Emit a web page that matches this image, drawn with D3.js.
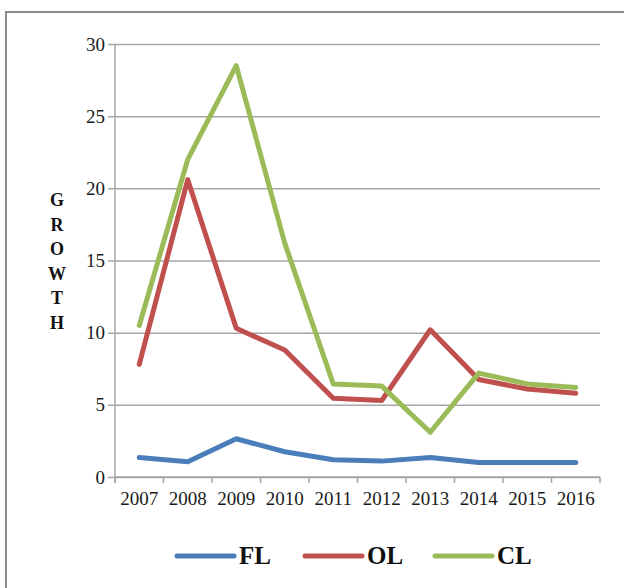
<!DOCTYPE html>
<html>
<head>
<meta charset="utf-8">
<script src="https://cdn.jsdelivr.net/npm/d3@7"></script>
<style>
  body { margin: 0; background: #fff; }
  svg { display: block; }
</style>
</head>
<body>
<div id="chart"></div>
<script>
// data
const years = ["2007", "2008", "2009", "2010", "2011", "2012", "2013", "2014", "2015", "2016"];
const flValues = [1.35, 1.05, 2.65, 1.75, 1.2, 1.1, 1.35, 1.0, 1.0, 1.0];
const olValues = [7.8, 20.6, 10.3, 8.8, 5.45, 5.3, 10.2, 6.75, 6.1, 5.8];
const clValues = [10.5, 22.0, 28.5, 16.2, 6.45, 6.3, 3.1, 7.2, 6.45, 6.2];
const yTicks = [0, 5, 10, 15, 20, 25, 30];
const seriesNames = ["FL", "OL", "CL"];
const seriesColors = ["#4a7ebb", "#c0504d", "#9bbb59"];
const axisLetters = ["G", "R", "O", "W", "T", "H"];

const width = 624, height = 588;
const margin = { top: 44, right: 24, bottom: 111, left: 115 };
const innerWidth = width - margin.left - margin.right;
const innerHeight = height - margin.top - margin.bottom;
const gridColor = "#a6a6a6";
const serif = "'Liberation Serif', 'Times New Roman', serif";

const svg = d3.select("#chart").append("svg")
  .attr("width", width)
  .attr("height", height);

// outer frame: only the top and left edges are inside the picture
svg.append("path")
  .attr("d", `M6,${height}V12H${width}`)
  .attr("fill", "none")
  .attr("stroke", "#8c8c8c")
  .attr("stroke-width", 2);

const g = svg.append("g")
  .attr("transform", `translate(${margin.left},${margin.top})`);

const x = d3.scaleBand().domain(years).range([0, innerWidth]);
const y = d3.scaleLinear().domain([0, 30]).range([innerHeight, 0]);

// horizontal grid + y ticks
g.append("g")
  .call(d3.axisLeft(y).tickValues(yTicks).tickSize(-innerWidth).tickSizeOuter(0).tickPadding(10))
  .call(a => a.select(".domain").remove())
  .call(a => a.selectAll(".tick line")
    .attr("x1", -7)
    .attr("stroke", gridColor)
    .attr("stroke-width", 1.5))
  .call(a => a.selectAll(".tick text")
    .attr("font-family", serif)
    .attr("font-size", 19)
    .attr("fill", "#1a1a1a"));

// y axis line
g.append("line")
  .attr("x1", 0).attr("x2", 0)
  .attr("y1", 0).attr("y2", innerHeight + 6)
  .attr("stroke", gridColor)
  .attr("stroke-width", 1.5);

// x axis: ticks between categories
const xAxis = g.append("g")
  .attr("transform", `translate(0,${innerHeight})`);
xAxis.append("line")
  .attr("x1", 0).attr("x2", innerWidth)
  .attr("stroke", gridColor)
  .attr("stroke-width", 1.5);
xAxis.selectAll("line.tick")
  .data(years.concat(["end"]))
  .join("line")
  .attr("class", "tick")
  .attr("x1", (d, i) => i * x.step())
  .attr("x2", (d, i) => i * x.step())
  .attr("y1", 0).attr("y2", 6)
  .attr("stroke", gridColor)
  .attr("stroke-width", 1.5);
xAxis.selectAll("text")
  .data(years)
  .join("text")
  .attr("x", d => x(d) + x.bandwidth() / 2)
  .attr("y", 28)
  .attr("text-anchor", "middle")
  .attr("font-family", serif)
  .attr("font-size", 19)
  .attr("fill", "#1a1a1a")
  .text(d => d);

// stacked axis title
svg.append("g")
  .selectAll("text")
  .data(axisLetters)
  .join("text")
  .attr("x", 57)
  .attr("y", (d, i) => 206 + i * 24.5)
  .attr("text-anchor", "middle")
  .attr("font-family", serif)
  .attr("font-weight", "bold")
  .attr("font-size", 18)
  .attr("fill", "#111")
  .text(d => d);

// lines
const allSeries = [flValues, olValues, clValues];
const line = d3.line()
  .x((d, i) => x(years[i]) + x.bandwidth() / 2)
  .y(d => y(d));

g.selectAll("path.series")
  .data(allSeries)
  .join("path")
  .attr("class", "series")
  .attr("d", line)
  .attr("fill", "none")
  .attr("stroke", (d, i) => seriesColors[i])
  .attr("stroke-width", 5)
  .attr("stroke-linejoin", "round")
  .attr("stroke-linecap", "round");

// legend
const legendX = [177, 305, 435];
const legend = svg.append("g")
  .selectAll("g")
  .data(seriesNames)
  .join("g")
  .attr("transform", (d, i) => `translate(${legendX[i]},556)`);
legend.append("line")
  .attr("x1", 0).attr("x2", 57)
  .attr("stroke", (d, i) => seriesColors[i])
  .attr("stroke-width", 5)
  .attr("stroke-linecap", "round");
legend.append("text")
  .attr("x", 62)
  .attr("y", 8)
  .attr("font-family", serif)
  .attr("font-weight", "bold")
  .attr("font-size", 25)
  .attr("fill", "#111")
  .text(d => d);
</script>
</body>
</html>
